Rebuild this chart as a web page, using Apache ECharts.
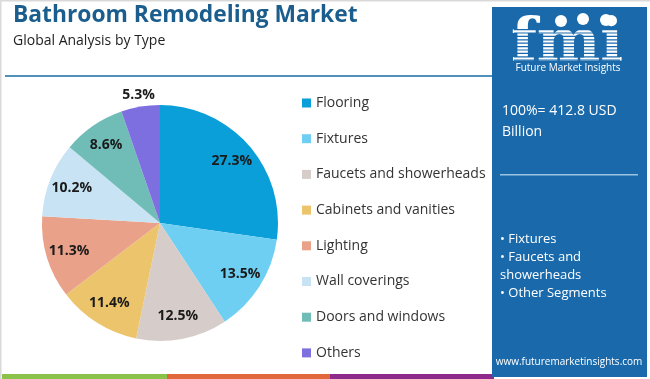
<!DOCTYPE html>
<html><head><meta charset="utf-8">
<script src="https://cdn.jsdelivr.net/npm/echarts@6/dist/echarts.min.js"></script>
<style>html,body{margin:0;padding:0;background:#fff}#c{width:650px;height:379px}</style>
</head><body><div id="c"></div>
<script>
const categories = ['Flooring','Fixtures','Faucets and showerheads','Cabinets and vanities','Lighting','Wall coverings','Doors and windows','Others'];
const shares = [27.3,13.5,12.5,11.4,11.3,10.2,8.6,5.3];
const colors = ['#0a9fd8','#6fcff3','#d6cdca','#ecc46c','#e9a18a','#c8e3f4','#70bdb8','#7e6fe0'];
const panelLines = ['100%= 412.8 USD','Billion'];
const bullets = ['• Fixtures','• Faucets and','showerheads','• Other Segments'];

const F = "'Open Sans', sans-serif";
const chart = echarts.init(document.getElementById('c'));
const pieData = categories.map((n,i)=>({name:n,value:shares[i],itemStyle:{color:colors[i]}}));
const labelData = categories.map((n,i)=>{
  const d = {name:n,value:shares[i]};
  if (i === categories.length-1) {
    d.label = {position:'outside',offset:[20,-8]};
    d.labelLine = {show:false,length:4,length2:0};
  }
  return d;
});

const graphics = [
  {type:'rect',shape:{x:0,y:0,width:650,height:1.5},style:{fill:'#d9d9d9'}},
  {type:'rect',shape:{x:0,y:0,width:1.5,height:379},style:{fill:'#d9d9d9'}},
  {type:'text',left:13,top:4,style:{text:'Bathroom Remodeling Market',font:"bold 22.8px 'Open Sans', sans-serif",fill:'#1b5e8e'}},
  {type:'text',left:13,top:34,style:{text:'Global Analysis by Type',font:"14px 'Open Sans', sans-serif",fill:'#222'}},
  {type:'rect',shape:{x:5,y:75,width:487,height:2},style:{fill:'#4f8fba'}},
  {type:'rect',shape:{x:2,y:374,width:165,height:5},style:{fill:'#8bc34a'}},
  {type:'rect',shape:{x:167,y:374,width:163,height:5},style:{fill:'#e0683a'}},
  {type:'rect',shape:{x:330,y:374,width:164,height:5},style:{fill:'#8e2a8c'}},
  {type:'rect',shape:{x:492,y:7,width:155,height:370},style:{fill:'#1a6aab'}},
  {type:'text',x:567,y:15,style:{text:'fmi',font:"bold 60px 'DejaVu Serif', serif",fill:'#fff',align:'center',verticalAlign:'top'}},
];
for (let k=0;k<10;k++) graphics.push({type:'rect',shape:{x:514,y:29+k*3.4,width:106,height:1.2},style:{fill:'#1a6aab'}});
graphics.push(
  {type:'circle',shape:{cx:561,cy:21,r:6},style:{fill:'#fff'}},
  {type:'circle',shape:{cx:583,cy:19,r:6},style:{fill:'#fff'}},
  {type:'circle',shape:{cx:606,cy:20,r:6},style:{fill:'#fff'}},
  {type:'text',x:568,y:68,style:{text:'Future Market Insights',font:"10px 'Open Sans', sans-serif",fill:'#fff',align:'center',verticalAlign:'middle'}},
  {type:'text',left:502,top:101,style:{text:panelLines.join('\n'),font:"14px 'Open Sans', sans-serif",lineHeight:21,fill:'#fff'}},
  {type:'rect',shape:{x:500,y:174,width:138,height:1.5},style:{fill:'#9cc3e2'}},
  {type:'text',left:500,top:230,style:{text:bullets.join('\n'),font:"13px 'Open Sans', sans-serif",lineHeight:18,fill:'#fff'}},
  {type:'text',x:569,y:362,style:{text:'www.futuremarketinsights.com',font:"10px 'Open Sans', sans-serif",fill:'#fff',align:'center',verticalAlign:'middle'}}
);

chart.setOption({
  animation:false,
  legend:{orient:'vertical',left:297,top:91,itemWidth:9,itemHeight:9,itemGap:21.7,icon:'rect',
    textStyle:{fontFamily:F,fontSize:14,color:'#333',lineHeight:14},data:categories},
  graphic:graphics,
  series:[
    {type:'pie',center:[160,223],radius:[0,118],startAngle:90,clockwise:true,data:pieData,
      label:{show:false},labelLine:{show:false},itemStyle:{borderWidth:0}},
    {type:'pie',center:[160,223],radius:[66,118],startAngle:90,clockwise:true,data:labelData,silent:true,
      itemStyle:{color:'rgba(0,0,0,0)'},
      label:{show:true,position:'inside',formatter:'{c}%',fontFamily:F,fontWeight:'bold',fontSize:14,color:'#1a1a1a'},
      labelLine:{show:false}}
  ]
});
</script></body></html>
